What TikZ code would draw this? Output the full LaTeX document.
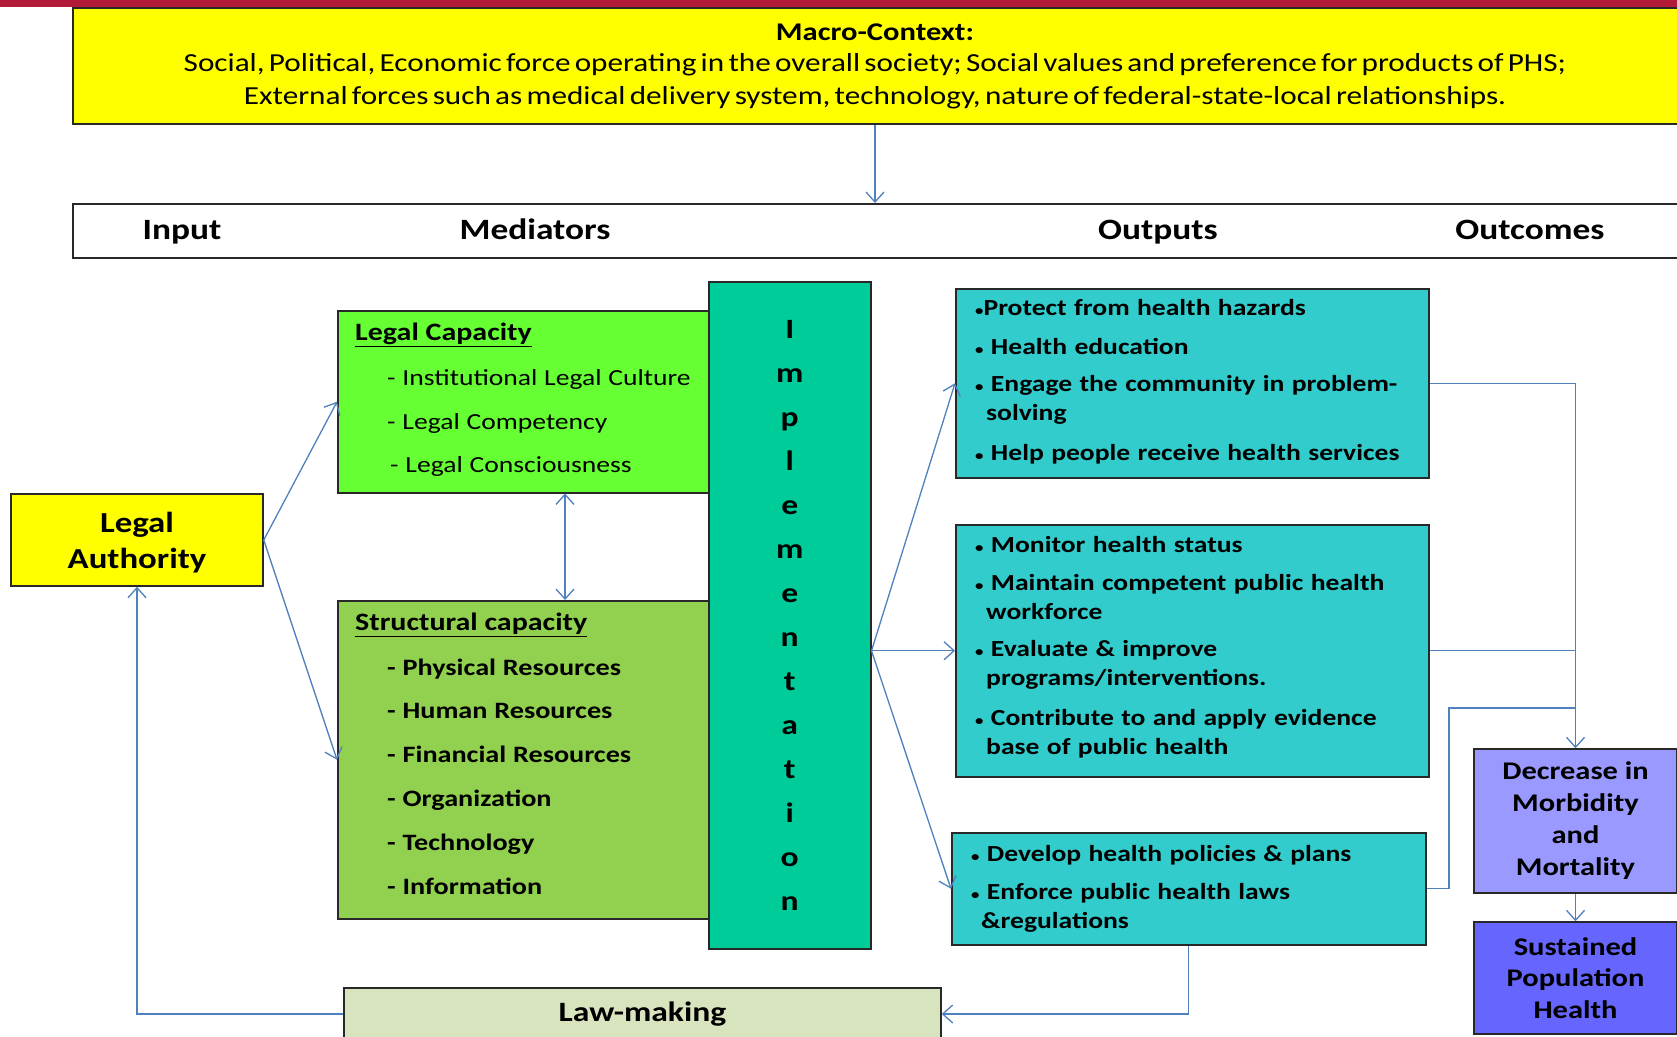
\documentclass[tikz,border=0pt]{standalone}
\usepackage{fontspec}
\setmainfont{Carlito}
\newfontfamily\wfont[FakeStretch=1.2]{Carlito}
\newfontfamily\macfont[FakeStretch=1.2,WordSpace=0.6]{Carlito}
\usetikzlibrary{arrows.meta,calc}
\definecolor{redbar}{RGB}{178,26,56}
\definecolor{ylw}{RGB}{255,255,0}
\definecolor{lgreen}{RGB}{102,255,51}
\definecolor{sgreen}{RGB}{146,208,80}
\definecolor{impc}{RGB}{0,204,153}
\definecolor{outc}{RGB}{51,204,204}
\definecolor{oc1c}{RGB}{153,153,255}
\definecolor{oc2c}{RGB}{102,102,255}
\definecolor{lawc}{RGB}{215,228,189}
\definecolor{connc}{RGB}{79,129,189}
\definecolor{boxline}{RGB}{40,40,40}
\newcommand\bul{{\fontsize{14}{14}\selectfont •}}
\newcommand\wspa{\spaceskip=6.8pt\relax}
\newcommand\wspb{\spaceskip=7.4pt\relax}
\begin{document}
\begin{tikzpicture}[x=1pt,y=-1pt,
  box/.style={draw=boxline, line width=1.5pt, inner sep=0pt, anchor=north west},
  conn/.style={draw=connc, line width=1.3pt, -{Straight Barb[length=10pt,width=18pt,line width=1.3pt]}},
  conn2/.style={draw=connc, line width=1.3pt, {Straight Barb[length=10pt,width=18pt,line width=1.3pt]}-{Straight Barb[length=10pt,width=18pt,line width=1.3pt]}},
  link/.style={draw=connc, line width=1.3pt},
  mac/.style={inner sep=0pt, font=\macfont\fontsize{26}{30}\selectfont},
  hdrt/.style={inner sep=0pt, text height=22pt, text depth=3pt, font=\wfont\bfseries\fontsize{29.5}{36}\selectfont},
  ln/.style={anchor=west, inner sep=0pt, text height=15pt, text depth=4pt},
  lcl/.style={ln, font={\wfont\fontsize{23}{26}\selectfont\wspa}},
  scl/.style={ln, font={\wfont\bfseries\fontsize{23.5}{26}\selectfont\wspa}},
  ttl/.style={ln, font={\wfont\bfseries\fontsize{25}{28}\selectfont\wspa}},
  olt/.style={ln, font={\wfont\bfseries\fontsize{23}{26}\selectfont\wspb}},
]
\useasboundingbox (0,0) rectangle (1677,1036);
\clip (0,0) rectangle (1677,1036);
\fill[white] (0,0) rectangle (1677,1036);
\fill[redbar] (0,0) rectangle (1677,6.5);

% Macro context
\node[box, fill=ylw, minimum width=1606, minimum height=116] (macro) at (72,7) {};
\node[mac, font=\macfont\bfseries\fontsize{25.5}{30}\selectfont] (mt) at (875,32) {Macro-Context:};
\node[mac] (m1) at (875,65) {Social, Political, Economic force operating in the overall society; Social values and preference for products of PHS;};
\node[mac] (m2) at (875,98) {External forces such as medical delivery system, technology, nature of federal-state-local relationships.};

% Header bar
\node[box, fill=white, minimum width=1606, minimum height=54] (hdr) at (72,203) {};
\node[hdrt] (hin) at (182,230) {Input};
\node[hdrt] (hme) at (535,230) {Mediators};
\node[hdrt] (hou) at (1158,230) {Outputs};
\node[hdrt] (hoc) at (1530,230) {Outcomes};

% Legal authority
\node[box, fill=ylw, minimum width=252, minimum height=92, anchor=center] (la) at (137,540) {};
\node[inner sep=0pt, align=center, font=\wfont\bfseries\fontsize{29}{36}\selectfont] (lat) at (137,543) {Legal\\Authority};

% Legal capacity
\node[box, fill=lgreen, minimum width=371, minimum height=182] (lc) at (337,310) {};
\node[ttl] (lct) at (355,335) {\underline{Legal Capacity}};
\node[lcl] (lc1) at (387,380) {- Institutional Legal Culture};
\node[lcl] (lc2) at (387,424) {- Legal Competency};
\node[lcl] (lc3) at (390,467) {- Legal Consciousness};

% Structural capacity
\node[box, fill=sgreen, minimum width=371, minimum height=318] (sc) at (337,600) {};
\node[ttl] (sct) at (355,625) {\underline{Structural capacity}};
\node[scl] (sc1) at (387,670) {- Physical Resources};
\node[scl] (sc2) at (387,713) {- Human Resources};
\node[scl] (sc3) at (387,757) {- Financial Resources};
\node[scl] (sc4) at (387,801) {- Organization};
\node[scl] (sc5) at (387,845) {- Technology};
\node[scl] (sc6) at (387,889) {- Information};

% Implementation
\node[box, fill=impc, minimum width=162, minimum height=667, align=center,
      font=\wfont\bfseries\fontsize{28}{44}\selectfont] (imp) at (708,281)
  {I\\m\\p\\l\\e\\m\\e\\n\\t\\a\\t\\i\\o\\n};

% Outputs
\node[box, fill=outc, minimum width=473, minimum height=189] (o1) at (955,288) {};
\node[olt] (o1a) at (975,310) {\bul Protect from health hazards};
\node[olt] (o1b) at (975,349) {\bul\ Health education};
\node[olt] (o1c) at (975,386) {\bul\ Engage the community in problem-};
\node[olt] (o1d) at (986,415) {solving};
\node[olt] (o1e) at (975,455) {\bul\ Help people receive health services};

\node[box, fill=outc, minimum width=473, minimum height=252] (o2) at (955,524) {};
\node[olt] (o2a) at (975,547) {\bul\ Monitor health status};
\node[olt] (o2b) at (975,585) {\bul\ Maintain competent public health};
\node[olt] (o2c) at (986,614) {workforce};
\node[olt] (o2d) at (975,651) {\bul\ Evaluate \& improve};
\node[olt] (o2e) at (986,680) {programs/interventions.};
\node[olt] (o2f) at (975,720) {\bul\ Contribute to and apply evidence};
\node[olt] (o2g) at (986,749) {base of public health};

\node[box, fill=outc, minimum width=474, minimum height=112] (o3) at (951,832) {};
\node[olt] (o3a) at (971,856) {\bul\ Develop health policies \& plans};
\node[olt] (o3b) at (971,894) {\bul\ Enforce public health laws};
\node[olt] (o3c) at (981,923) {\&regulations};

% Outcomes
\node[box, fill=oc1c, minimum width=203, minimum height=144, anchor=center, align=center,
      font={\wfont\bfseries\fontsize{25.4}{32}\selectfont\wspa}] (oc1) at (1575.5,821) {Decrease in\\Morbidity\\and\\Mortality};
\node[box, fill=oc2c, minimum width=203, minimum height=112, anchor=center, align=center,
      font=\wfont\bfseries\fontsize{25.4}{31.5}\selectfont] (oc2) at (1575.5,978) {Sustained\\Population\\Health};

% Law-making
\node[box, fill=lawc, minimum width=597, minimum height=52, anchor=center,
      font=\wfont\bfseries\fontsize{28}{34}\selectfont] (lm) at (642.5,1014) {Law-making};

% Connectors
\draw[conn] (macro.south -| mt) -- (hdr.north -| mt);
\draw[conn] (la.east) -- (lc.west);
\draw[conn] (la.east) -- (sc.west);
\coordinate (dx) at (565,550);
\draw[conn2] (lc.south -| dx) -- (sc.north -| dx);
\coordinate (ie) at (imp.east |- o2.west);
\draw[conn] (ie) -- (o1.west);
\draw[conn] (ie) -- (o2.west);
\draw[conn] (ie) -- (o3.west);
\draw[conn] (o1.east) -| (oc1.north);
\draw[link] (o2.east) -- (o2.east -| oc1.north);
\coordinate (jx) at (1449,708);
\draw[link] (o3.east) -| (jx) -- (jx -| oc1.north);
\draw[conn] (oc1.south) -- (oc2.north);
\draw[conn] (o3.south) |- (lm.east);
\draw[conn] (lm.west) -| (la.south);
\end{tikzpicture}
\end{document}
